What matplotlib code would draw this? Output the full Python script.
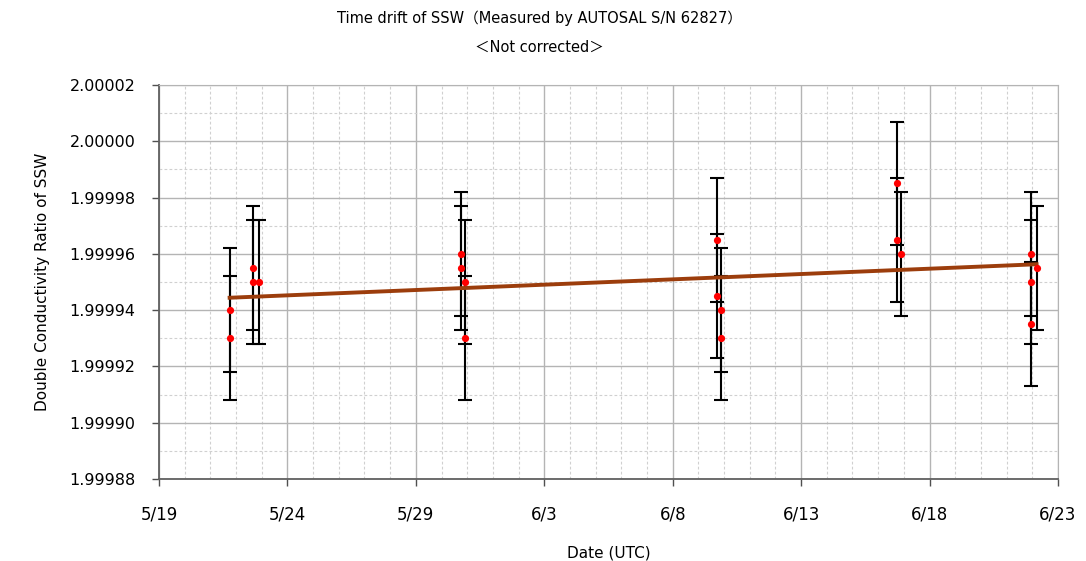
import matplotlib
matplotlib.use("Agg")
import matplotlib.pyplot as plt
import matplotlib.dates as mdates
from matplotlib.ticker import MultipleLocator, FuncFormatter
import pandas as pd

plt.rcParams['font.family'] = ['DejaVu Sans', 'Noto Sans CJK JP']

# Data
dates = ["2011-05-21 18:00", "2011-05-21 18:00",
         "2011-05-22 16:00", "2011-05-22 16:00", "2011-05-22 21:00",
         "2011-05-30 18:00", "2011-05-30 18:00", "2011-05-30 22:00", "2011-05-30 22:00",
         "2011-06-09 17:00", "2011-06-09 17:00", "2011-06-09 21:00", "2011-06-09 21:00",
         "2011-06-16 18:00", "2011-06-16 18:00", "2011-06-16 21:00",
         "2011-06-21 23:00", "2011-06-21 23:00", "2011-06-21 23:00", "2011-06-22 04:00"]
ratios = [1.99994, 1.99993,
          1.999955, 1.99995, 1.99995,
          1.99996, 1.999955, 1.99995, 1.99993,
          1.999965, 1.999945, 1.99994, 1.99993,
          1.999985, 1.999965, 1.99996,
          1.99996, 1.99995, 1.999935, 1.999955]
ratio_err = 0.000022

# trend line (Excel linear trend, end points)
trend_dates = ["2011-05-21 18:00", "2011-06-22 04:00"]
trend_ratios = [1.9999444, 1.9999563]

x = pd.to_datetime(dates)
xt = pd.to_datetime(trend_dates)

fig = plt.figure(figsize=(10.86, 5.61), dpi=100)
ax = fig.add_axes([0.1464, 0.1462, 0.8278, 0.7023])

ax.errorbar(x, ratios, yerr=ratio_err, fmt='none', ecolor='black',
            elinewidth=1.5, capsize=5, capthick=1.5, zorder=3)
ax.plot(xt, trend_ratios, color='#9c3d0c', linewidth=2.8, zorder=4)
ax.plot(x, ratios, 'o', color='red', markersize=5.2, markeredgewidth=0, zorder=5)

ax.set_xlim(pd.Timestamp("2011-05-19"), pd.Timestamp("2011-06-23"))
ax.set_ylim(1.99988, 2.00002)

ax.set_xticks(pd.to_datetime(["2011-05-19", "2011-05-24", "2011-05-29", "2011-06-03",
                              "2011-06-08", "2011-06-13", "2011-06-18", "2011-06-23"]))
ax.xaxis.set_minor_locator(mdates.DayLocator())
ax.xaxis.set_major_formatter(FuncFormatter(lambda v, p: "{}/{}".format(
    mdates.num2date(v).month, mdates.num2date(v).day)))
ax.yaxis.set_major_locator(MultipleLocator(0.00002))
ax.yaxis.set_minor_locator(MultipleLocator(0.00001))
ax.yaxis.set_major_formatter(FuncFormatter(lambda v, p: "{:.5f}".format(v)))

ax.grid(which='major', color='#b4b4b4', linewidth=1.0, linestyle='-')
ax.grid(which='minor', color='#d0d0d0', linewidth=0.8, linestyle=(0, (2.5, 2)))
ax.set_axisbelow(True)

ax.tick_params(which='major', direction='out', length=5, width=1, color='#505050',
               labelsize=11.5)
ax.tick_params(axis='x', pad=14, labelsize=12)
ax.tick_params(axis='y', pad=12)
ax.tick_params(which='minor', length=0)
for side in ['left', 'bottom']:
    ax.spines[side].set_color('#606060')
    ax.spines[side].set_linewidth(1.3)
for side in ['top', 'right']:
    ax.spines[side].set_color('#b4b4b4')

ax.set_xlabel("Date (UTC)", fontsize=11, labelpad=16)
ax.set_ylabel("Double Conductivity Ratio of SSW", fontsize=11, labelpad=14)

fig.text(0.497, 0.967, "Time drift of SSW（Measured by AUTOSAL S/N 62827）",
         ha='center', va='center', fontsize=10.5)
fig.text(0.497, 0.916, "＜Not corrected＞", ha='center', va='center', fontsize=10.5)

fig.savefig("out.png", dpi=100)
